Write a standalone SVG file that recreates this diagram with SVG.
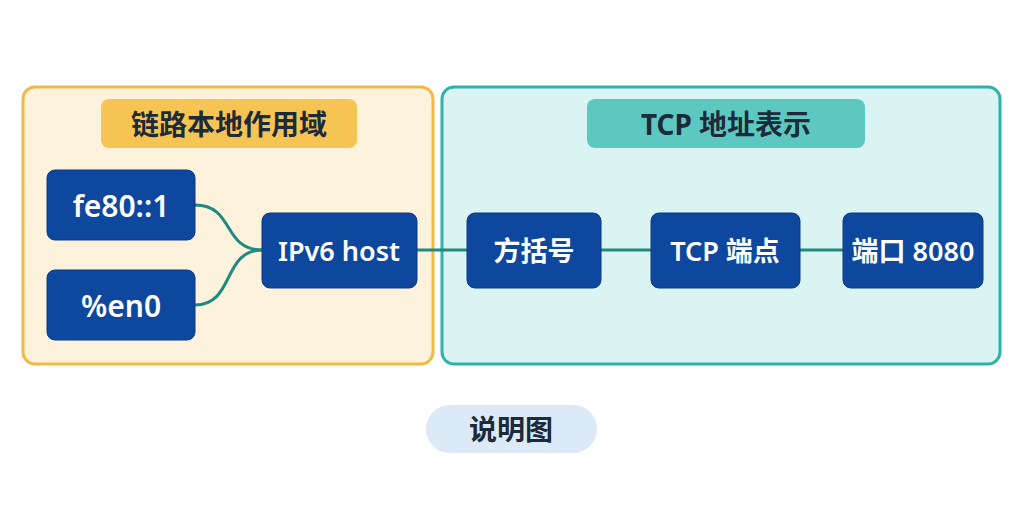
<svg xmlns="http://www.w3.org/2000/svg" width="1024" height="512" viewBox="0 0 1024 512">
<style>
.node rect{fill:#0d479e;stroke:#0a3a85;stroke-width:1}
.node text{fill:#fff;font-family:"Noto Sans","Noto Sans CJK SC",sans-serif;font-size:27px;font-weight:600;text-anchor:middle;dominant-baseline:central}
.big text{font-size:30px}
.title text{fill:#1d2a3a;font-family:"Noto Sans","Noto Sans CJK SC",sans-serif;font-size:28px;font-weight:700;text-anchor:middle;dominant-baseline:central}
.conn path{fill:none;stroke:#1f8a80;stroke-width:3}
</style>
<rect width="1024" height="512" fill="#ffffff"/>
<g id="panel-left"><rect x="23" y="87" width="410" height="277" rx="12" fill="#fdf3dc" stroke="#f2b949" stroke-width="3"/></g>
<g id="panel-right"><rect x="442" y="87" width="558" height="277" rx="12" fill="#daf4f3" stroke="#2fb3a8" stroke-width="3"/></g>
<g id="title-left" class="title"><rect x="101" y="99" width="256" height="49" rx="8" fill="#f6c453"/><text x="229" y="124">链路本地作用域</text></g>
<g id="title-right" class="title"><rect x="587" y="99" width="278" height="49" rx="8" fill="#5cc8c0"/><text x="726" y="124">TCP 地址表示</text></g>
<g id="connectors" class="conn">
<path d="M195,205 C235,205 222,250 262,250"/>
<path d="M195,305 C235,305 222,250 262,250"/>
<path d="M417,250 H467"/>
<path d="M601,250 H651"/>
<path d="M800,250 H843"/>
</g>
<g id="n-fe80" class="node big"><rect x="47" y="170" width="148" height="70" rx="8"/><text x="121" y="205">fe80::1</text></g>
<g id="n-en0" class="node big"><rect x="47" y="270" width="148" height="70" rx="8"/><text x="121" y="305">%en0</text></g>
<g id="n-host" class="node"><rect x="262" y="213" width="155" height="75" rx="8"/><text x="339" y="250">IPv6 host</text></g>
<g id="n-bracket" class="node"><rect x="467" y="213" width="134" height="75" rx="8"/><text x="534" y="250">方括号</text></g>
<g id="n-tcp" class="node"><rect x="651" y="213" width="149" height="75" rx="8"/><text x="725" y="250">TCP 端点</text></g>
<g id="n-port" class="node"><rect x="843" y="213" width="140" height="75" rx="8"/><text x="913" y="250">端口 8080</text></g>
<g id="caption" class="title"><rect x="426" y="405" width="171" height="48" rx="24" fill="#dceaf7"/><text x="511" y="429" fill="#1a2e50">说明图</text></g>
</svg>
